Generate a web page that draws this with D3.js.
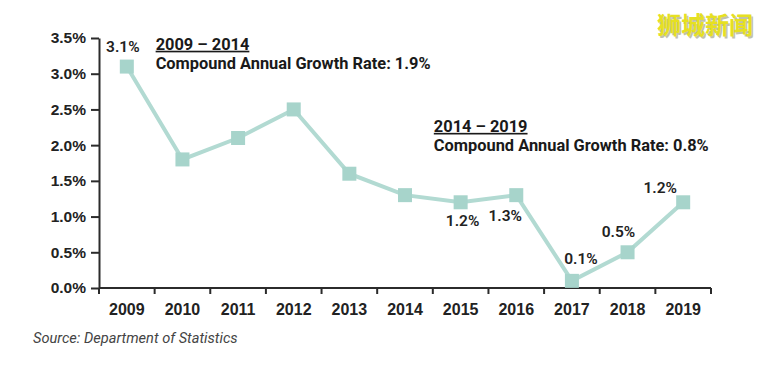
<!DOCTYPE html>
<html>
<head>
<meta charset="utf-8">
<script src="https://cdn.jsdelivr.net/npm/d3@7"></script>
<style>
  body { margin: 0; background: #fff; }
  svg { font-family: Roboto, "Noto Sans", sans-serif; }
  .tick text { font-weight: 700; fill: #222; }
  .domain, .tick line { stroke: #2b2b2b; stroke-width: 2px; }
</style>
</head>
<body>
<svg id="chart" width="770" height="390"></svg>
<script>
// data
const years = ["2009","2010","2011","2012","2013","2014","2015","2016","2017","2018","2019"];
const growth = [3.1, 1.8, 2.1, 2.5, 1.6, 1.3, 1.2, 1.3, 0.1, 0.5, 1.2];
const yTicks = [0, 0.5, 1.0, 1.5, 2.0, 2.5, 3.0, 3.5];
// which points carry a value label, and where it sits relative to the point
const labelled = [
  { i: 0, dx: -4, dy: -19 },
  { i: 6, dx: 2, dy: 20 },
  { i: 7, dx: -11, dy: 22 },
  { i: 8, dx: 9, dy: -21 },
  { i: 9, dx: -9, dy: -19 },
  { i: 10, dx: -23, dy: -13 }
];
const notes = [
  { year: "2009", value: 3.35, period: "2009 \u2013 2014", text: "Compound Annual Growth Rate: 1.9%" },
  { year: "2014", value: 2.2, period: "2014 \u2013 2019", text: "Compound Annual Growth Rate: 0.8%" }
];

const svg = d3.select("#chart");
const margin = { left: 99, right: 59, top: 38, bottom: 102 };
const W = 770, H = 390;

const x = d3.scaleBand().domain(years).range([margin.left, W - margin.right]);
const y = d3.scaleLinear().domain([0, 3.5]).range([H - margin.bottom, margin.top]);

// x axis: ticks sit on band edges
const xAxis = svg.append("g")
  .attr("transform", "translate(0," + y(0) + ")")
  .call(d3.axisBottom(x).tickSize(0).tickPadding(16));
xAxis.selectAll(".tick text").attr("font-size", 16);
xAxis.select(".domain").attr("d", "M" + margin.left + ",0H" + (W - margin.right));
xAxis.selectAll(".edge")
  .data(d3.range(years.length + 1))
  .enter().append("line")
  .attr("class", "edge")
  .attr("x1", d => margin.left + d * x.step())
  .attr("x2", d => margin.left + d * x.step())
  .attr("y1", 0).attr("y2", 6)
  .attr("stroke", "#2b2b2b").attr("stroke-width", 2);

const yAxis = svg.append("g")
  .attr("transform", "translate(" + margin.left + ",0)")
  .call(d3.axisLeft(y).tickValues(yTicks).tickFormat(d => d.toFixed(1) + "%").tickSize(8).tickPadding(5).tickSizeOuter(0));
yAxis.selectAll(".tick text").attr("font-size", 15.5);

const cx = d => x(d) + x.bandwidth() / 2;

// line + square markers
svg.append("path")
  .datum(growth)
  .attr("fill", "none")
  .attr("stroke", "#b2dad2")
  .attr("stroke-width", 4)
  .attr("d", d3.line().x((d, i) => cx(years[i])).y(d => y(d)));

svg.selectAll(".pt")
  .data(growth)
  .enter().append("rect")
  .attr("class", "pt")
  .attr("x", (d, i) => cx(years[i]) - 7)
  .attr("y", d => y(d) - 7)
  .attr("width", 14).attr("height", 14)
  .attr("fill", "#a7d4cb");

svg.selectAll(".val")
  .data(labelled)
  .enter().append("text")
  .attr("class", "val")
  .attr("x", d => cx(years[d.i]) + d.dx)
  .attr("y", d => y(growth[d.i]) + d.dy)
  .attr("text-anchor", "middle")
  .attr("dominant-baseline", "middle")
  .attr("font-size", 15.5)
  .attr("font-weight", 600)
  .attr("fill", "#222")
  .text(d => growth[d.i].toFixed(1) + "%");

// period annotations
const note = svg.selectAll(".note")
  .data(notes)
  .enter().append("g")
  .attr("class", "note")
  .attr("transform", d => "translate(" + (x(d.year) + x.bandwidth() + 1) + "," + (y(d.value) + 1) + ")");
note.append("text")
  .attr("font-size", 16.4).attr("font-weight", 700).attr("fill", "#1a1a1a")
  .attr("text-decoration", "underline")
  .text(d => d.period);
note.append("text")
  .attr("y", 19)
  .attr("font-size", 16.4).attr("font-weight", 700).attr("fill", "#1a1a1a")
  .text(d => d.text);

// source
svg.append("text")
  .attr("x", 33).attr("y", 343)
  .attr("font-size", 14.6).attr("font-style", "italic").attr("fill", "#444")
  .text("Source: Department of Statistics");

// watermark
const wm = svg.append("g").attr("transform", "translate(705,34)");
wm.append("text")
  .attr("x", 1.5).attr("y", 1.5)
  .attr("text-anchor", "middle")
  .attr("font-family", "'Noto Sans CJK SC'")
  .attr("font-size", 24).attr("font-weight", 700)
  .attr("fill", "#9a9a70").attr("opacity", 0.6)
  .text("狮城新闻");
wm.append("text")
  .attr("text-anchor", "middle")
  .attr("font-family", "'Noto Sans CJK SC'")
  .attr("font-size", 24).attr("font-weight", 700)
  .attr("fill", "#e6e022")
  .text("狮城新闻");
</script>
</body>
</html>
